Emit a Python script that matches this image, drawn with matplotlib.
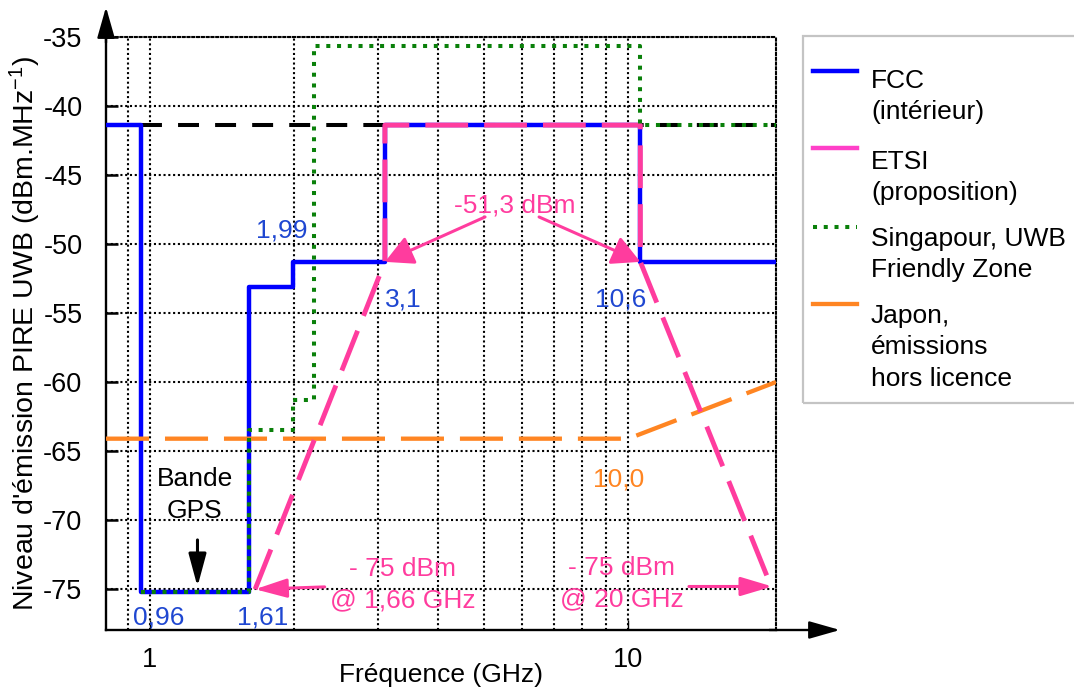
import numpy as np
import matplotlib.pyplot as plt
from matplotlib.lines import Line2D
from matplotlib.patches import Rectangle
from matplotlib.ticker import FixedLocator, FixedFormatter, NullFormatter

plt.rcParams['font.family'] = ['Liberation Sans', 'DejaVu Sans']
plt.rcParams['axes.unicode_minus'] = False
plt.rcParams['mathtext.fontset'] = 'custom'
plt.rcParams['mathtext.rm'] = 'Liberation Sans'
plt.rcParams['mathtext.default'] = 'regular'

# plot limits
f_min, f_max = 0.81, 20.36      # GHz
db_min, db_max = -77.95, -35.0  # dBm/MHz

# FCC (indoor) mask: band edges (GHz) and levels (dBm/MHz)
fcc_edges = [f_min, 0.96, 1.61, 1.99, 3.1, 10.6, f_max]
fcc_levels = [-41.4, -75.2, -53.1, -51.3, -41.4, -51.3]

# ETSI proposal: corner points
etsi_freq = [1.66, 3.1, 3.1, 10.6, 10.6, 20.0]
etsi_level = [-75.0, -51.3, -41.4, -41.4, -51.3, -75.0]

# Singapore UWB Friendly Zone
sg_edges = [0.96, 1.61, 1.99, 2.2, 10.6, f_max]
sg_levels = [-75.2, -63.5, -61.3, -35.7, -41.4]

# Japan, unlicensed emissions
jp_freq = [f_min, 10.0, f_max]
jp_level = [-64.1, -64.1, -60.0]

# -41.3 dBm/MHz reference level
ref_freq = [0.96, f_max]
ref_level = [-41.4, -41.4]

y_ticks = [-75, -70, -65, -60, -55, -50, -45, -40, -35]
x_major = [1, 10]
x_minor = [0.9, 2, 3, 4, 5, 6, 7, 8, 9]

legend_labels = ['FCC\n(intérieur)', 'ETSI\n(proposition)',
                 'Singapour, UWB\nFriendly Zone', 'Japon,\némissions\nhors licence']

BLUE = '#0000ff'
BLUE_TXT = '#1f47d1'
PINK = '#ff3c9e'
GREEN = '#0a800a'
ORANGE = '#ff8522'
FS = 19
LS = 1.39


def steps(edges, levels):
    x = np.repeat(edges, 2)[1:-1]
    y = np.repeat(levels, 2)
    return x, y


fig = plt.figure(figsize=(10.74, 6.9), dpi=100)
W, H = 1074, 690
ax = fig.add_axes([106 / W, 1 - 630 / H, 670 / W, (630 - 36.7) / H])
ax.set_xscale('log')
ax.set_xlim(f_min, f_max)
ax.set_ylim(db_min, db_max)

# curves
ax.plot(ref_freq, ref_level, color='k', lw=2.9, dashes=(5.2, 4.0), zorder=2)
x, y = steps(fcc_edges, fcc_levels)
ax.plot(x, y, color=BLUE, lw=3.2, zorder=3)
ax.plot(jp_freq, jp_level, color=ORANGE, lw=3.1, dashes=(10, 3.7), zorder=4)
ax.plot(etsi_freq, etsi_level, color=PINK, lw=3.5, dashes=(8.8, 3.3), zorder=5)
x, y = steps(sg_edges, sg_levels)
ax.plot(x, y, color=GREEN, lw=2.9, dashes=(1, 1.67), zorder=6)

# axes, ticks, grid
ax.xaxis.set_major_locator(FixedLocator(x_major))
ax.xaxis.set_major_formatter(FixedFormatter(['1', '10']))
ax.xaxis.set_minor_locator(FixedLocator(x_minor))
ax.xaxis.set_minor_formatter(NullFormatter())
ax.set_yticks(y_ticks)
ax.set_yticklabels([str(v) for v in y_ticks])
ax.tick_params(axis='y', direction='in', length=8.6, width=1.8, pad=17, labelsize=19.5)
ax.tick_params(axis='x', which='major', direction='in', length=7, width=1.0, pad=12, labelsize=19.5)
ax.tick_params(axis='x', which='minor', length=0)
grid_style = dict(color='k', lw=1.5, dashes=(1, 1.3))
ax.grid(True, which='both', axis='x', **grid_style)
ax.grid(True, which='major', axis='y', **grid_style)
ax.set_axisbelow(True)
for side in ('left', 'bottom'):
    ax.spines[side].set_linewidth(1.7)
for side in ('top', 'right'):
    ax.spines[side].set_linewidth(1.5)
    ax.spines[side].set_linestyle((0, (1, 1.3)))

ax.set_xlabel('Fréquence (GHz)', fontsize=FS)
ax.xaxis.set_label_coords(0.5, -(675 - 630) / 593.3)
ax.xaxis.label.set_va('center')
ax.set_ylabel("Niveau d'émission PIRE UWB (dBm.MHz$^{-1}$)", fontsize=20.5)
ax.yaxis.set_label_coords(-(106 - 25) / 670, 0.5)
ax.yaxis.label.set_va('center')

# axis arrows
axis_arrow = dict(arrowstyle='-|>,head_length=0.95,head_width=0.27', color='k',
                  lw=1.7, shrinkA=0, shrinkB=0, mutation_scale=20)
ax.annotate('', xy=(1.0955, 0), xytext=(0.99, 0), xycoords='axes fraction',
            arrowprops=axis_arrow)
ax.annotate('', xy=(0, 1.05), xytext=(0, 0.99), xycoords='axes fraction',
            arrowprops=axis_arrow)


def arrow(tip, tail, color, hl, hw, lw=2.2):
    ax.annotate('', xy=tip, xytext=tail,
                arrowprops=dict(arrowstyle=f'-|>,head_length={hl},head_width={hw}',
                                color=color, lw=lw, shrinkA=0, shrinkB=0,
                                mutation_scale=20))


# annotations
ax.text(5.80, -47.2, '-51,3 dBm', color=PINK, fontsize=FS, ha='center', va='center')
arrow((3.1, -51.3), (5.02, -48.05), PINK, 0.86, 0.45)
arrow((10.6, -51.3), (6.51, -48.05), PINK, 0.86, 0.45)

ax.text(3.38, -74.69, '- 75 dBm\n@ 1,66 GHz', color=PINK, fontsize=FS,
        ha='center', va='center', linespacing=LS)
arrow((1.66, -75.0), (2.32, -74.83), PINK, 0.97, 0.29)
ax.text(9.70, -74.62, '- 75 dBm\n@ 20 GHz', color=PINK, fontsize=FS,
        ha='center', va='center', linespacing=LS)
arrow((20.0, -74.8), (13.39, -74.8), PINK, 0.97, 0.29)

ax.text(1.242, -68.17, 'Bande\nGPS', color='k', fontsize=FS, ha='center',
        va='center', linespacing=LS)
arrow((1.258, -74.81), (1.258, -71.43), 'k', 1.0, 0.27, lw=2.2)

for xt, yt, s in [(1.888, -49.06, '1,99'), (3.38, -54.06, '3,1'),
                  (9.63, -54.0, '10,6'), (1.044, -77.08, '0,96'),
                  (1.718, -77.08, '1,61')]:
    ax.text(xt, yt, s, color=BLUE_TXT, fontsize=FS, ha='center', va='center')
ax.text(9.53, -67.02, '10,0', color=ORANGE, fontsize=FS, ha='center', va='center')

# legend box drawn by hand (handles aligned with first text line)
fig.add_artist(Rectangle((803 / W, 1 - 403 / H), 300 / W, (403 - 36) / H,
                         transform=fig.transFigure, fill=False,
                         ec='#c4c4c4', lw=1.6))
handle_styles = [dict(color=BLUE, lw=3.2),
                 dict(color='#ff40c8', lw=3.2),
                 dict(color=GREEN, lw=2.9, dashes=(1, 1.67)),
                 dict(color=ORANGE, lw=3.1)]
handle_y = [71, 148, 227, 304]
text_top = [69, 150, 227, 304]
for lab, st, hy, ty in zip(legend_labels, handle_styles, handle_y, text_top):
    fig.add_artist(Line2D([813 / W, 857 / W], [1 - hy / H] * 2,
                          transform=fig.transFigure, **st))
    fig.text(871 / W, 1 - ty / H, lab, fontsize=FS, ha='left', va='top',
             linespacing=LS)

fig.savefig('out.png', dpi=100)
